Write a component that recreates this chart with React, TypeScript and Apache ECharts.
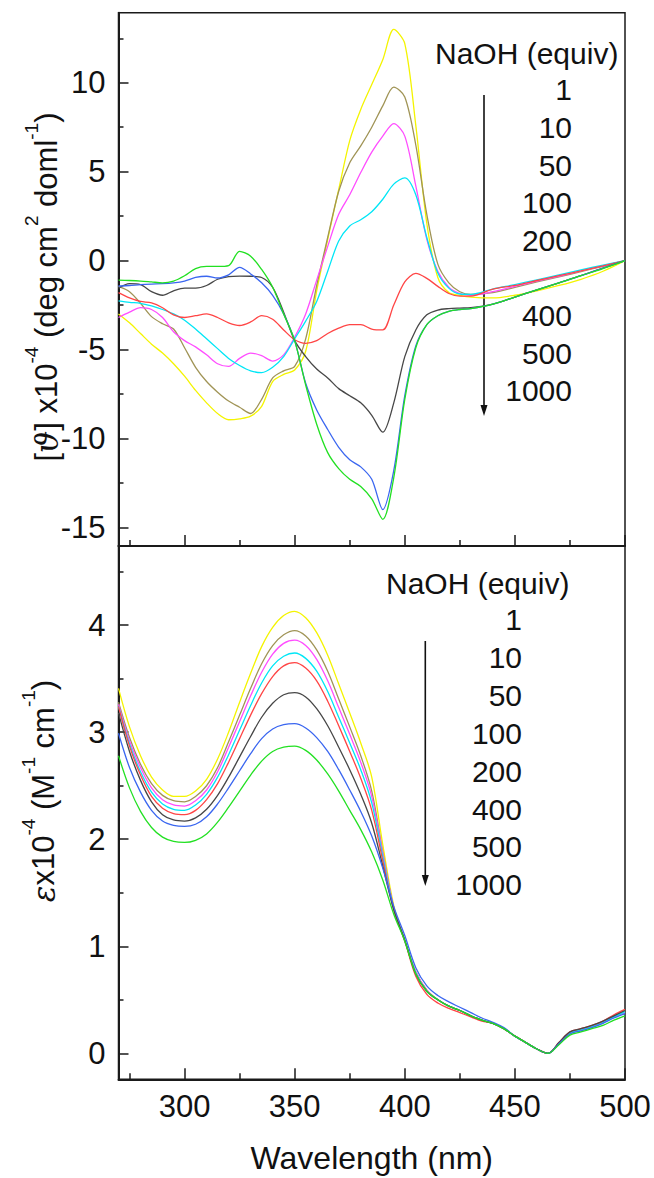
import React, { useEffect, useRef } from 'react';
import * as echarts from 'echarts';

// ---------- data ----------
const equivLabels = ['1', '10', '50', '100', '200', '400', '500', '1000'];
const seriesColors = ['#f4f400', '#a09456', '#ff4dff', '#00e6f6', '#ff4545', '#474747', '#3a66f0', '#22e022'];

const xTickMajor = [300, 350, 400, 450, 500];
const xTickMinor = [275, 325, 375, 425, 475];
const cdTickMajor = [-15, -10, -5, 0, 5, 10];
const cdTickMinor = [-12.5, -7.5, -2.5, 2.5, 7.5, 12.5];
const absTickMajor = [0, 1, 2, 3, 4];
const absTickMinor = [0.5, 1.5, 2.5, 3.5, 4.5];

// CD spectra (top), wavelength in nm
const cdX = [270, 275, 280, 285, 290, 295, 300, 305, 310, 315, 320, 325, 330, 335, 340, 345, 350, 355, 360, 365, 370, 375, 380, 385, 390, 395, 400, 405, 410, 415, 420, 425, 430, 440, 450, 460, 470, 480, 490, 500];
const cd1 = [-3.0, -3.5, -4.1, -4.7, -5.2, -5.8, -6.5, -7.3, -8.0, -8.6, -8.95, -8.9, -8.75, -8.2, -6.8, -6.4, -6.15, -5.1, -1.7, 1.2, 4.0, 6.75, 8.5, 9.9, 11.3, 13.0, 12.2, 7.6, 2.1, -0.95, -1.8, -1.95, -2.05, -2.1, -1.95, -1.7, -1.4, -1.05, -0.6, 0];
const cd10 = [-1.45, -1.75, -2.4, -3.15, -3.55, -3.85, -4.9, -6.0, -6.8, -7.4, -7.9, -8.25, -8.6, -7.8, -6.6, -6.2, -5.95, -4.4, -1.4, 1.3, 3.9, 5.5, 6.45, 7.5, 8.7, 9.75, 9.2, 6.5, 2.6, -0.2, -1.25, -1.75, -1.9, -1.8, -1.5, -1.2, -0.92, -0.62, -0.32, 0];
const cd50 = [-3.2, -2.9, -2.65, -2.75, -3.2, -4.0, -4.5, -4.85, -5.3, -5.8, -5.95, -5.5, -5.2, -5.35, -5.65, -5.3, -4.3, -3.0, -1.1, 0.8, 2.6, 3.7, 4.95, 6.1, 7.0, 7.7, 7.0, 4.2, 1.2, -0.6, -1.5, -1.85, -1.95, -1.75, -1.45, -1.15, -0.88, -0.58, -0.3, 0];
const cd100 = [-2.27, -2.35, -2.4, -2.55, -2.75, -3.0, -3.35, -3.85, -4.4, -4.95, -5.5, -5.9, -6.2, -6.3, -6.0, -5.4, -4.4, -3.4, -2.3, -0.6, 1.1, 1.95, 2.3, 2.75, 3.45, 4.3, 4.65, 3.7, 1.3, -0.7, -1.55, -1.88, -1.9, -1.6, -1.35, -1.08, -0.8, -0.52, -0.25, 0];
const cd200 = [-1.8, -2.1, -2.3, -2.38, -2.65, -3.05, -3.2, -3.1, -3.0, -3.2, -3.5, -3.65, -3.45, -3.1, -3.3, -3.9, -4.45, -4.65, -4.5, -4.1, -3.8, -3.6, -3.6, -3.85, -3.9, -2.5, -1.2, -0.72, -1.0, -1.45, -1.85, -2.0, -2.0, -1.6, -1.4, -1.12, -0.85, -0.58, -0.3, 0];
const cd400 = [-1.55, -1.3, -1.35, -1.75, -1.95, -1.7, -1.55, -1.55, -1.4, -1.05, -0.9, -0.87, -0.88, -0.95, -1.5, -2.9, -4.5, -5.4, -6.1, -6.6, -7.2, -7.6, -8.0, -8.7, -9.65, -8.0, -5.4, -3.9, -3.05, -2.78, -2.7, -2.67, -2.65, -2.45, -2.05, -1.65, -1.25, -0.85, -0.42, 0];
const cd500 = [-1.43, -1.4, -1.35, -1.32, -1.3, -1.25, -1.15, -0.95, -0.88, -0.98, -0.8, -0.38, -0.75, -1.25, -1.95, -3.0, -4.5, -6.9, -8.4, -9.5, -10.5, -11.2, -11.6, -12.3, -14.0, -11.8, -7.6, -4.8, -3.6, -3.1, -2.85, -2.75, -2.7, -2.45, -2.05, -1.65, -1.25, -0.85, -0.42, 0];
const cd1000 = [-1.1, -1.12, -1.15, -1.2, -1.25, -1.15, -0.85, -0.45, -0.33, -0.33, -0.28, 0.52, 0.25, -0.5, -1.5, -3.0, -4.5, -7.0, -9.2, -10.8, -11.7, -12.3, -12.7, -13.4, -14.55, -12.2, -7.8, -4.9, -3.6, -3.1, -2.85, -2.75, -2.7, -2.45, -2.05, -1.65, -1.25, -0.85, -0.45, 0];

// absorption spectra (bottom)
const absX = [270, 275, 280, 285, 290, 295, 300, 305, 310, 315, 320, 325, 330, 335, 340, 345, 350, 355, 360, 365, 370, 375, 380, 385, 390, 395, 400, 405, 410, 415, 420, 425, 430, 435, 440, 445, 450, 455, 460, 465, 470, 475, 480, 485, 490, 495, 500];
const ab1 = [3.41, 3.05, 2.78, 2.58, 2.46, 2.4, 2.4, 2.45, 2.56, 2.75, 3.0, 3.28, 3.55, 3.8, 3.98, 4.09, 4.13, 4.07, 3.93, 3.72, 3.45, 3.18, 2.9, 2.58, 1.95, 1.38, 1.05, 0.76, 0.59, 0.5, 0.44, 0.4, 0.35, 0.31, 0.28, 0.23, 0.16, 0.1, 0.04, 0.0, 0.09, 0.19, 0.22, 0.25, 0.29, 0.34, 0.39];
const ab10 = [3.28, 2.95, 2.7, 2.52, 2.41, 2.36, 2.35, 2.4, 2.5, 2.67, 2.91, 3.16, 3.41, 3.64, 3.81, 3.91, 3.95, 3.9, 3.77, 3.57, 3.31, 3.05, 2.78, 2.45, 1.88, 1.36, 1.05, 0.76, 0.59, 0.5, 0.44, 0.4, 0.35, 0.31, 0.28, 0.23, 0.16, 0.1, 0.04, 0.0, 0.09, 0.19, 0.22, 0.25, 0.29, 0.35, 0.4];
const ab50 = [3.26, 2.92, 2.67, 2.48, 2.37, 2.32, 2.31, 2.36, 2.46, 2.63, 2.86, 3.1, 3.34, 3.56, 3.73, 3.83, 3.86, 3.81, 3.68, 3.48, 3.23, 2.98, 2.72, 2.4, 1.87, 1.36, 1.05, 0.76, 0.59, 0.5, 0.44, 0.4, 0.35, 0.31, 0.28, 0.23, 0.16, 0.1, 0.04, 0.0, 0.09, 0.19, 0.22, 0.25, 0.29, 0.34, 0.38];
const ab100 = [3.24, 2.89, 2.63, 2.44, 2.33, 2.28, 2.27, 2.32, 2.42, 2.58, 2.79, 3.02, 3.25, 3.46, 3.62, 3.71, 3.74, 3.69, 3.57, 3.38, 3.14, 2.9, 2.65, 2.34, 1.84, 1.35, 1.05, 0.75, 0.58, 0.5, 0.44, 0.4, 0.35, 0.31, 0.28, 0.23, 0.16, 0.1, 0.04, 0.0, 0.09, 0.19, 0.22, 0.25, 0.29, 0.34, 0.39];
const ab200 = [3.24, 2.87, 2.6, 2.4, 2.29, 2.24, 2.23, 2.27, 2.37, 2.52, 2.72, 2.94, 3.16, 3.36, 3.52, 3.62, 3.65, 3.6, 3.48, 3.29, 3.06, 2.82, 2.57, 2.27, 1.8, 1.34, 1.05, 0.72, 0.55, 0.47, 0.42, 0.38, 0.34, 0.3, 0.28, 0.23, 0.16, 0.1, 0.04, 0.0, 0.1, 0.2, 0.23, 0.26, 0.3, 0.36, 0.41];
const ab400 = [3.18, 2.82, 2.55, 2.35, 2.23, 2.18, 2.17, 2.2, 2.28, 2.41, 2.58, 2.77, 2.96, 3.14, 3.27, 3.35, 3.37, 3.33, 3.22, 3.06, 2.86, 2.65, 2.42, 2.15, 1.75, 1.34, 1.06, 0.74, 0.58, 0.5, 0.44, 0.4, 0.35, 0.31, 0.28, 0.23, 0.16, 0.1, 0.04, 0.0, 0.1, 0.2, 0.23, 0.26, 0.3, 0.35, 0.4];
const ab500 = [2.99, 2.67, 2.44, 2.27, 2.17, 2.13, 2.12, 2.14, 2.21, 2.33, 2.48, 2.64, 2.8, 2.94, 3.03, 3.07, 3.08, 3.04, 2.95, 2.82, 2.65, 2.46, 2.26, 2.03, 1.73, 1.37, 1.1, 0.8, 0.63, 0.54, 0.48, 0.43, 0.38, 0.33, 0.29, 0.24, 0.16, 0.1, 0.04, 0.0, 0.09, 0.18, 0.21, 0.24, 0.28, 0.33, 0.37];
const ab1000 = [2.78, 2.48, 2.26, 2.11, 2.02, 1.98, 1.97, 1.99, 2.05, 2.16, 2.3, 2.45, 2.6, 2.73, 2.82, 2.86, 2.87, 2.83, 2.74, 2.61, 2.45, 2.27, 2.09, 1.88, 1.62, 1.3, 1.05, 0.74, 0.58, 0.5, 0.44, 0.4, 0.35, 0.31, 0.28, 0.23, 0.16, 0.1, 0.04, 0.0, 0.08, 0.17, 0.2, 0.23, 0.26, 0.31, 0.35];

const cdSeries = [cd1, cd10, cd50, cd100, cd200, cd400, cd500, cd1000];
const absSeries = [ab1, ab10, ab50, ab100, ab200, ab400, ab500, ab1000];

// ---------- layout / style ----------
const FONT = '"Liberation Sans", Arial, Helvetica, sans-serif';
const AX = '#1a1a1a';
const TXT = '#111';
const PLOT_L = 118.5;
const PLOT_W = 506.5;
const TOP_T = 12.7;
const PANEL_H = 533.3;
const BOT_T = TOP_T + PANEL_H;

function xAxes(gridIndex: number, labels: boolean) {
  return [
    {
      type: 'value', gridIndex, min: 270, max: 500, position: 'bottom',
      axisLine: { show: true, onZero: false, lineStyle: { color: AX, width: 2 } },
      axisTick: { show: true, inside: true, length: 11, customValues: xTickMajor, lineStyle: { color: AX, width: 1.5 } },
      axisLabel: { show: labels, customValues: xTickMajor, margin: 12, fontSize: 31, color: TXT, fontFamily: FONT },
      splitLine: { show: false },
    },
    {
      type: 'value', gridIndex, min: 270, max: 500, position: 'bottom',
      axisLine: { show: false, onZero: false },
      axisTick: { show: true, inside: true, length: 6, customValues: xTickMinor, lineStyle: { color: AX, width: 1.5 } },
      axisLabel: { show: false },
      splitLine: { show: false },
    },
  ];
}

function yAxes(gridIndex: number, min: number, max: number, major: number[], minor: number[]) {
  return [
    {
      type: 'value', gridIndex, min, max, position: 'left',
      axisLine: { show: true, onZero: false, lineStyle: { color: AX, width: 2 } },
      axisTick: { show: true, inside: true, length: 10, customValues: major, lineStyle: { color: AX, width: 1.5 } },
      axisLabel: { show: true, customValues: major, margin: 13, fontSize: 31, color: TXT, fontFamily: FONT },
      splitLine: { show: false },
    },
    {
      type: 'value', gridIndex, min, max, position: 'left',
      axisLine: { show: false, onZero: false },
      axisTick: { show: true, inside: true, length: 5, customValues: minor, lineStyle: { color: AX, width: 1.5 } },
      axisLabel: { show: false },
      splitLine: { show: false },
    },
  ];
}

const richBase = { fontSize: 31, fontFamily: FONT, fill: TXT, color: TXT, lineHeight: 40, verticalAlign: 'bottom' };
const richItalic = { ...richBase, fontStyle: 'italic', fontFamily: '"DejaVu Serif", "Liberation Serif", serif' };
const richSup = { fontSize: 19, fontFamily: FONT, fill: TXT, color: TXT, lineHeight: 19, verticalAlign: 'top' };

function legendBlock(titleX: number, titleY: number, numRight: number, numYs: number[], arrowX: number, arrowTop: number, arrowTip: number) {
  const els: any[] = [
    {
      type: 'text', x: titleX, y: titleY, silent: true,
      style: { text: 'NaOH (equiv)', align: 'left', textAlign: 'left', verticalAlign: 'middle', textVerticalAlign: 'middle', fontSize: 30, fontFamily: FONT, fill: TXT },
    },
    {
      type: 'line', silent: true,
      shape: { x1: arrowX, y1: arrowTop, x2: arrowX, y2: arrowTip - 8 },
      style: { stroke: TXT, lineWidth: 1.6 },
    },
    {
      type: 'polygon', silent: true,
      shape: { points: [[arrowX - 3.5, arrowTip - 11], [arrowX + 3.5, arrowTip - 11], [arrowX, arrowTip]] },
      style: { fill: TXT },
    },
  ];
  equivLabels.forEach((lab, i) => {
    els.push({
      type: 'text', x: numRight, y: numYs[i], silent: true,
      style: { text: lab, align: 'right', textAlign: 'right', verticalAlign: 'middle', textVerticalAlign: 'middle', fontSize: 30, fontFamily: FONT, fill: TXT },
    });
  });
  return els;
}

export default function App() {
  const ref = useRef<HTMLDivElement>(null);

  useEffect(() => {
    if (!ref.current) return;
    const chart = echarts.init(ref.current, null, { renderer: 'svg' });

    const series: any[] = [];
    cdSeries.forEach((vals, i) => {
      series.push({
        type: 'line', name: 'CD ' + equivLabels[i], xAxisIndex: 0, yAxisIndex: 0,
        data: cdX.map((x, j) => [x, vals[j]]),
        showSymbol: false, symbol: 'none', smooth: 0.3, silent: true,
        lineStyle: { color: seriesColors[i], width: 1.3 }, itemStyle: { color: seriesColors[i] },
      });
    });
    absSeries.forEach((vals, i) => {
      series.push({
        type: 'line', name: 'Abs ' + equivLabels[i], xAxisIndex: 2, yAxisIndex: 2,
        data: absX.map((x, j) => [x, vals[j]]),
        showSymbol: false, symbol: 'none', smooth: 0.35, silent: true,
        lineStyle: { color: seriesColors[i], width: 1.3 }, itemStyle: { color: seriesColors[i] },
      });
    });

    const topNumYs = [89, 127, 165, 202.5, 240, 315, 353, 390];
    const botNumYs = [619.5, 657.5, 695.5, 733, 771, 809, 846.5, 884.5];

    const option: any = {
      animation: false,
      backgroundColor: '#ffffff',
      grid: [
        { left: PLOT_L, top: TOP_T, width: PLOT_W, height: PANEL_H, show: true, borderColor: AX, borderWidth: 1.5, containLabel: false },
        { left: PLOT_L, top: BOT_T, width: PLOT_W, height: PANEL_H, show: true, borderColor: AX, borderWidth: 1.5, containLabel: false },
      ],
      xAxis: [...xAxes(0, false), ...xAxes(1, true)],
      yAxis: [
        ...yAxes(0, -16.05, 13.94, cdTickMajor, cdTickMinor),
        ...yAxes(1, -0.243, 4.74, absTickMajor, absTickMinor),
      ],
      series,
      graphic: [
        {
          type: 'text', x: 42, y: 287, rotation: Math.PI / 2, silent: true,
          style: {
            text: '{t|[}{it|ϑ}{t|] x10}{s|-4}{t| (deg cm}{s|2}{t| doml}{s|-1}{t|)}',
            align: 'center', textAlign: 'center', verticalAlign: 'middle', textVerticalAlign: 'middle',
            rich: { t: richBase, it: richItalic, s: richSup },
          },
        },
        {
          type: 'text', x: 39, y: 791, rotation: Math.PI / 2, silent: true,
          style: {
            text: '{it|ε}{t|x10}{s|-4}{t| (M}{s|-1}{t| cm}{s|-1}{t|)}',
            align: 'center', textAlign: 'center', verticalAlign: 'middle', textVerticalAlign: 'middle',
            rich: { t: richBase, it: richItalic, s: richSup },
          },
        },
        {
          type: 'text', x: PLOT_L + PLOT_W / 2, y: 1158, silent: true,
          style: { text: 'Wavelength (nm)', align: 'center', textAlign: 'center', verticalAlign: 'middle', textVerticalAlign: 'middle', fontSize: 32, lineHeight: 32, fontFamily: FONT, fill: TXT },
        },
        ...legendBlock(435, 53, 572, topNumYs, 484, 95, 416),
        ...legendBlock(386, 583, 522, botNumYs, 425.3, 641, 886),
      ],
    };

    chart.setOption(option);
    return () => chart.dispose();
  }, []);

  return (
    <div
      ref={ref}
      style={{ position: 'absolute', left: 0, top: 0, width: 654, height: 1178, background: '#fff' }}
    />
  );
}
